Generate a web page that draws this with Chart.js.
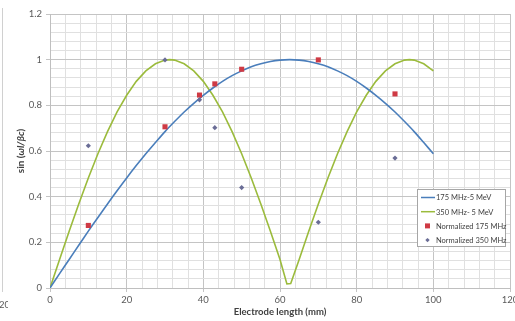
<!DOCTYPE html>
<html>
<head>
<meta charset="utf-8">
<script src="https://cdn.jsdelivr.net/npm/chart.js@4/dist/chart.umd.min.js"></script>
<style>
html,body{margin:0;padding:0;background:#fff;overflow:hidden;}
#wrap{position:relative;width:530px;height:321px;}
</style>
</head>
<body>
<div id="wrap"><canvas id="c" width="530" height="321"></canvas></div>
<script>
// Data
const curveX = [0,2.5,5,7.5,10,12.5,15,17.5,20,22.5,25,27.5,30,32.5,35,37.5,40,42.5,45,47.5,50,52.5,55,57.5,60,62.5,65,67.5,70,72.5,75,77.5,80,82.5,85,87.5,90,92.5,95,97.5,100];
const blue175 = [0,0.063,0.125,0.187,0.249,0.309,0.368,0.426,0.482,0.536,0.588,0.637,0.685,0.729,0.771,0.809,0.844,0.876,0.905,0.930,0.951,0.969,0.982,0.992,0.998,1.0,0.998,0.992,0.982,0.969,0.951,0.930,0.905,0.876,0.844,0.809,0.771,0.729,0.685,0.637,0.588];
const greenX = [0,2.5,5,7.5,10,12.5,15,17.5,20,22.5,25,27.5,30,31.25,32.5,35,37.5,40,42.5,45,47.5,50,52.5,55,57.5,60,61.8,62.8,65,67.5,70,72.5,75,77.5,80,82.5,85,87.5,90,92.5,93.75,95,97.5,100];
const green350 = [0,0.125,0.249,0.368,0.482,0.588,0.685,0.771,0.844,0.905,0.951,0.982,0.998,1.0,0.998,0.982,0.951,0.905,0.844,0.771,0.685,0.588,0.482,0.368,0.249,0.125,0.018,0.02,0.125,0.249,0.368,0.482,0.588,0.685,0.771,0.844,0.905,0.951,0.982,0.998,1.0,0.998,0.982,0.951];
const measX = [10,30,39,43,50,70,90];
const norm175 = [0.274,0.706,0.845,0.894,0.958,0.999,0.85];
const norm350 = [0.623,0.999,0.824,0.702,0.44,0.288,0.569];
const labels = ['175 MHz-5 MeV','350 MHz- 5 MeV','Normalized 175 MHz','Normalized 350 MHz'];
const yTitleParts = ['sin (','ωl/βc',')'];
const xTitle = 'Electrode length (mm)';

const pts = (xs, ys) => xs.map((x,i)=>({x:x,y:ys[i]}));
const FONT = 'Lato, "Open Sans", sans-serif';

const isMajor = (v, step) => Math.abs(v/step - Math.round(v/step)) < 1e-6;

const legendPlugin = {
  id:'boxLegend',
  afterDraw(chart){
    const c = chart.ctx;
    const x0=417, y0=189, w=88, h=57;
    c.save();
    c.fillStyle='#fff'; c.fillRect(x0,y0,w,h);
    c.strokeStyle='#a6a6a6'; c.lineWidth=1; c.strokeRect(x0+0.5,y0+0.5,w,h);
    c.font='7.5px '+FONT; c.fillStyle='#404040'; c.textBaseline='middle';
    chart.data.datasets.forEach((ds,i)=>{
      const y = y0+8.5+i*14.2;
      if(ds.showLine!==false){
        c.strokeStyle=ds.borderColor; c.lineWidth=1.5;
        c.beginPath(); c.moveTo(x0+4,y); c.lineTo(x0+18,y); c.stroke();
      } else if(ds.pointStyle==='rect'){
        c.fillStyle=ds.backgroundColor; c.fillRect(x0+8,y-2.5,5,5);
      } else {
        c.fillStyle=ds.backgroundColor;
        c.beginPath(); c.moveTo(x0+10.5,y-2.2); c.lineTo(x0+12.7,y); c.lineTo(x0+10.5,y+2.2); c.lineTo(x0+8.3,y); c.closePath(); c.fill();
      }
      c.fillStyle='#404040';
      c.fillText(ds.label, x0+19, y+0.5);
    });
    c.restore();
  }
};

const yTitlePlugin = {
  id:'yTitle',
  afterDraw(chart){
    const c = chart.ctx;
    c.save();
    c.translate(21, 151);
    c.rotate(-Math.PI/2);
    c.fillStyle='#404040';
    c.textBaseline='middle';
    const fonts = ['bold 10px '+FONT,'italic bold 10px '+FONT,'bold 10px '+FONT];
    let total=0; const ws=[];
    yTitleParts.forEach((t,i)=>{c.font=fonts[i]; const wv=c.measureText(t).width; ws.push(wv); total+=wv;});
    let x=-total/2;
    yTitleParts.forEach((t,i)=>{c.font=fonts[i]; c.fillText(t,x,0); x+=ws[i];});
    c.restore();
    // neighbouring chart artifact at far left
    c.save();
    c.strokeStyle='#d0d0d0'; c.lineWidth=1;
    c.beginPath(); c.moveTo(2.5,8); c.lineTo(2.5,292); c.stroke();
    c.beginPath(); c.rect(0,290,8,30); c.clip();
    c.font='9.5px '+FONT; c.fillStyle='#595959'; c.textBaseline='middle';
    c.fillText('20',-1,305);
    c.restore();
  }
};

new Chart(document.getElementById('c'), {
  type:'line',
  data:{
    datasets:[
      {label:labels[0], data:pts(curveX,blue175), borderColor:'#4a7ebb', borderWidth:1.6, pointRadius:0, fill:false, tension:0.3, order:2},
      {label:labels[1], data:pts(greenX,green350), borderColor:'#9bbb3c', borderWidth:1.6, pointRadius:0, fill:false, tension:0, order:3},
      {label:labels[2], data:pts(measX,norm175), showLine:false, pointStyle:'rect', pointRadius:3.6, backgroundColor:'#cf3a44', borderColor:'#cf3a44', borderWidth:0, order:1},
      {label:labels[3], data:pts(measX,norm350), showLine:false, pointStyle:'rectRot', pointRadius:2.6, backgroundColor:'#6a6d96', borderColor:'#6a6d96', borderWidth:0, order:0}
    ]
  },
  options:{
    responsive:false, animation:false, devicePixelRatio:1,
    layout:{padding:{top:14,right:20,left:0,bottom:0}},
    plugins:{legend:{display:false}, tooltip:{enabled:false}},
    scales:{
      x:{
        type:'linear', min:0, max:120,
        afterFit(s){ s.height = 33; },
        ticks:{stepSize:4, autoSkip:false, maxRotation:0, padding:2, color:'#595959', font:{family:FONT,size:9.5},
          callback:(v)=> isMajor(v,20) ? String(v) : ''},
        grid:{color:(ctx)=> ctx.tick && isMajor(ctx.tick.value,20) ? '#c4c4c4' : '#e0e0e0', tickLength:4,
          tickColor:(ctx)=> ctx.tick && isMajor(ctx.tick.value,20) ? '#c4c4c4' : 'rgba(0,0,0,0)'},
        border:{color:'#bfbfbf'},
        title:{display:true, text:xTitle, color:'#404040', font:{family:FONT,size:9.5,weight:'bold'}, padding:{top:0,bottom:3}}
      },
      y:{
        min:0, max:1.2,
        afterFit(s){ s.width = 50; },
        ticks:{stepSize:0.04, autoSkip:false, padding:4, color:'#595959', font:{family:FONT,size:9.5},
          callback:(v)=> isMajor(v,0.2) ? String(Math.round(v*10)/10) : ''},
        grid:{color:(ctx)=> ctx.tick && isMajor(ctx.tick.value,0.2) ? '#c4c4c4' : '#e0e0e0', tickLength:4,
          tickColor:(ctx)=> ctx.tick && isMajor(ctx.tick.value,0.2) ? '#c4c4c4' : 'rgba(0,0,0,0)'},
        border:{color:'#bfbfbf'}
      }
    }
  },
  plugins:[legendPlugin, yTitlePlugin]
});
</script>
</body>
</html>
